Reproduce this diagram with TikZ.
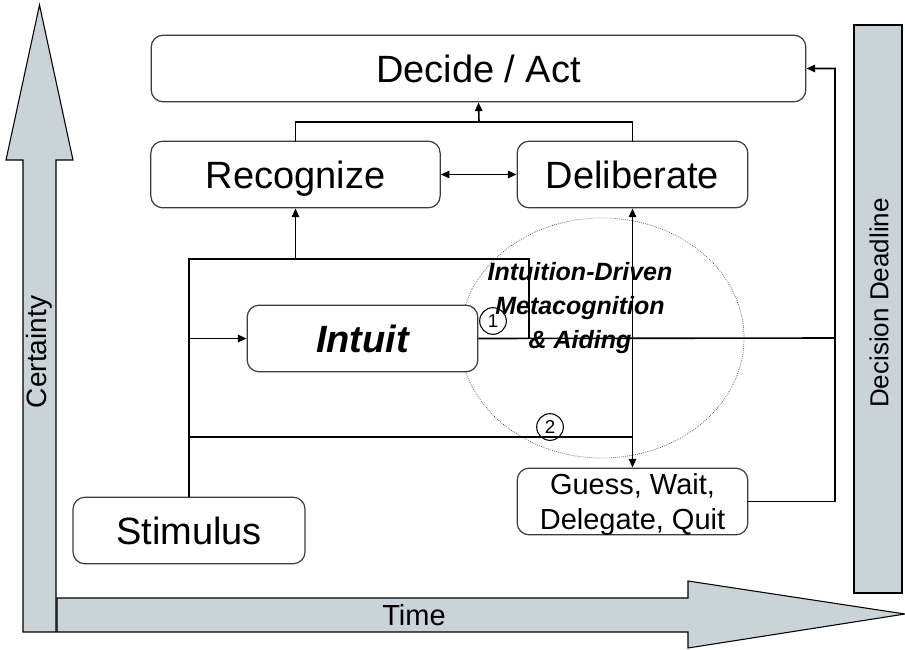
\documentclass[tikz,border=0pt]{standalone}
\usepackage{fontspec}
\setmainfont{Liberation Sans}
\usetikzlibrary{arrows.meta,shapes.geometric}

\definecolor{axisgray}{RGB}{201,211,216}
\definecolor{boxline}{RGB}{60,60,60}

\tikzset{every picture/.style={line width=0.75pt}}
\tikzset{
  stagebox/.style={draw=boxline, line width=0.9pt, rounded corners=9pt, fill=white, inner sep=0pt, align=center,
    font=\fontsize{28.5}{30}\selectfont, text height=21pt, text depth=0pt},
  flow/.style={line width=1.2pt, draw=black},
  tip/.style={-{Triangle[length=6.5pt,width=5.5pt]}},
  bothtips/.style={{Triangle[length=6.5pt,width=5.5pt]}-{Triangle[length=6.5pt,width=5.5pt]}},
  stepmark/.style={circle, draw=black, line width=0.8pt, minimum size=20pt, inner sep=0pt, font=\fontsize{14}{14}\selectfont}
}

\begin{document}
\begin{tikzpicture}[x=0.75pt,y=0.75pt,yscale=-1,xscale=1]
\useasboundingbox (0,0) rectangle (905,649);

%Block Arrow: Time
\draw [draw=black, line width=0.8pt, fill=axisgray] (57,598) -- (688,598) -- (688,581) -- (905,614) -- (688,648) -- (688,632) -- (57,632) -- cycle ;
%Block Arrow: Certainty
\draw [draw=black, line width=0.8pt, fill=axisgray] (23,632) -- (23,160) -- (6,160) -- (39.5,5) -- (73,160) -- (56,160) -- (56,632) -- cycle ;
%Bar: Decision Deadline
\draw [draw=black, line width=0.8pt, fill=axisgray] (854,25) rectangle (902,593) ;

% Text Node
\node [font=\fontsize{21.75}{22}\selectfont] (time) at (414,615) {Time};
\node [rotate=90, font=\fontsize{21}{22}\selectfont] (certainty) at (39.5,352) {Certainty};
\node [rotate=90, font=\fontsize{19.5}{20}\selectfont] (deadline) at (879,303) {Decision Deadline};

%Ellipse: Dotted region
\draw [draw=black!85, line width=0.5pt, densely dotted] (602,338) ellipse [x radius=142, y radius=120] ;

%Stages
\node [stagebox, minimum width=491pt, minimum height=50pt] (decide) at (478.5,68.5) {Decide / Act};
\node [stagebox, minimum width=217pt, minimum height=50pt] (recog) at (295.5,174.5) {Recognize};
\node [stagebox, minimum width=173pt, minimum height=50pt] (delib) at (632.5,174.5) {Deliberate};
\node [stagebox, minimum width=173pt, minimum height=50pt, font=\fontsize{28.5}{30}\selectfont\bfseries\itshape] (intuit) at (362.5,338.5) {Intuit};
\node [stagebox, minimum width=173pt, minimum height=50pt, text height=, text depth=0pt, font=\fontsize{21.75}{26.25}\selectfont] (guess) at (632.5,501.5) {Guess, Wait,\\Delegate, Quit};
\node [stagebox, minimum width=174pt, minimum height=50pt] (stim) at (189,530.5) {Stimulus};

%Junctions
\coordinate (top) at (189,259);
\coordinate (fork) at (529,259);
\coordinate (low) at (189,437);
\coordinate (join) at (835,338);
\coordinate (merge) at (479,122);

%Connectors
\draw [flow] (stim.north) -- (top) -- (fork) -- (fork |- intuit.east) ;
\draw [flow, line width=1.8pt] (stim.north) -- (low) ;
\draw [flow, tip] (top -| recog.south) -- (recog.south) ;
\draw [flow, tip] (top |- intuit.west) -- (intuit.west) ;
\draw [flow, tip] (intuit.east) -- (join) |- (decide.east) ;
\draw [flow] (guess.east) -| (join) ;
\draw [flow, line width=1.8pt] (low) -- (low -| guess.north) ;
\draw [flow, bothtips] (delib.south) -- (guess.north) ;
\draw [flow, bothtips] (recog.east) -- (delib.west) ;
\draw [flow] (recog.north) |- (merge) -| (delib.north) ;
\draw [flow, tip] (merge) -- (decide.south) ;

%Markers
\node [stepmark] (one) at (493,321) {1};
\node [stepmark] (two) at (550,427) {2};

% Text Node
\node [align=center, font=\fontsize{18.75}{25.5}\selectfont\bfseries\itshape] (aid) at (580,308) {Intuition-Driven\\Metacognition\\\& Aiding};

\end{tikzpicture}
\end{document}
